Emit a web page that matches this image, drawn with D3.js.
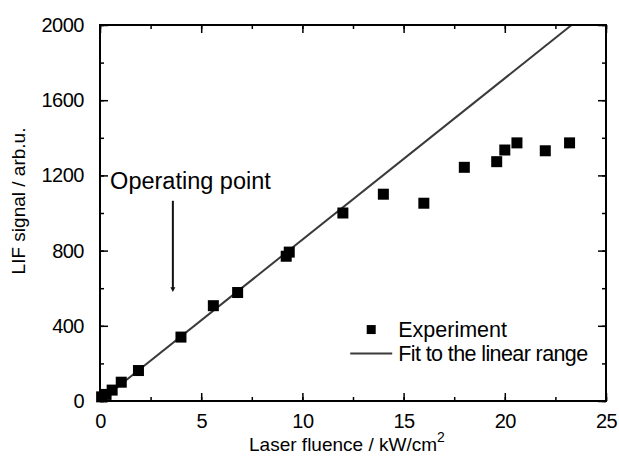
<!DOCTYPE html>
<html>
<head>
<meta charset="utf-8">
<script src="https://cdn.jsdelivr.net/npm/d3@7"></script>
<style>
  body { margin: 0; background: #fff; }
  svg { font-family: "Liberation Sans", Arial, sans-serif; }
</style>
</head>
<body>
<div id="chart-area"></div>
<script>
// experiment points
var fluence = [0.08, 0.3, 0.6, 1.05, 1.9, 4.0, 5.6, 6.8, 9.2, 9.35, 12, 14, 16, 18, 19.6, 20, 20.6, 22, 23.2]
var signal  = [22, 35, 58, 100, 162, 340, 507, 577, 770, 792, 1000, 1100, 1052, 1243, 1273, 1335, 1373, 1331, 1373]
// linear fit through the low-fluence range
var fitX = [0, 23.3]
var fitY = [0, 2000]
var xTicks = [0, 5, 10, 15, 20, 25]
var yTicks = [0, 400, 800, 1200, 1600, 2000]

var W = 619, H = 456
var margin = { top: 25, right: 13, bottom: 55, left: 100 }
var width = W - margin.left - margin.right
var height = H - margin.top - margin.bottom

var svg = d3.select("#chart-area").append("svg")
  .attr("width", W)
  .attr("height", H)

var g = svg.append("g")
  .attr("transform", `translate(${margin.left}, ${margin.top})`)

var x = d3.scaleLinear().domain([0, 25]).range([0, width])
var y = d3.scaleLinear().domain([0, 2000]).range([height, 0])

var data = fluence.map((f, i) => { return { x: f, y: signal[i] } })

// fit line
g.append("line")
  .attr("x1", x(fitX[0])).attr("y1", y(fitY[0]))
  .attr("x2", x(fitX[1])).attr("y2", y(fitY[1]))
  .attr("stroke", "#3a3a3a")
  .attr("stroke-width", 2)

// squares
var s = 11
g.selectAll("rect.pt")
  .data(data)
  .enter().append("rect")
  .attr("class", "pt")
  .attr("x", (d) => { return x(d.x) - s / 2 })
  .attr("y", (d) => { return y(d.y) - s / 2 })
  .attr("width", s)
  .attr("height", s)
  .attr("fill", "#000")

// axes, ticks pointing inward
function styleAxis(sel) {
  sel.select(".domain").remove()
  sel.selectAll("line").attr("stroke", "#000").attr("stroke-width", 1.5)
  sel.selectAll("text")
    .attr("font-size", "20px")
    .attr("letter-spacing", "-0.5px")
    .attr("fill", "#000")
}

var minorX = d3.range(0, 25.01, 2.5)
var minorY = d3.range(0, 2000.1, 200)

g.append("g").attr("transform", `translate(0, ${height})`)
  .call(d3.axisBottom(x).tickValues(minorX).tickSize(-4).tickFormat(""))
  .call(styleAxis)
g.append("g").attr("transform", `translate(0, ${height})`)
  .call(d3.axisBottom(x).tickValues(xTicks).tickSize(-8).tickPadding(13).tickFormat(d3.format("d")))
  .call(styleAxis)
g.append("g")
  .call(d3.axisTop(x).tickValues(minorX).tickSize(-4).tickFormat(""))
  .call(styleAxis)
g.append("g")
  .call(d3.axisTop(x).tickValues(xTicks).tickSize(-8).tickFormat(""))
  .call(styleAxis)

g.append("g")
  .call(d3.axisLeft(y).tickValues(minorY).tickSize(-4).tickFormat(""))
  .call(styleAxis)
g.append("g")
  .call(d3.axisLeft(y).tickValues(yTicks).tickSize(-8).tickPadding(16).tickFormat(d3.format("d")))
  .call(styleAxis)
g.append("g").attr("transform", `translate(${width}, 0)`)
  .call(d3.axisRight(y).tickValues(minorY).tickSize(-4).tickFormat(""))
  .call(styleAxis)
g.append("g").attr("transform", `translate(${width}, 0)`)
  .call(d3.axisRight(y).tickValues(yTicks).tickSize(-8).tickFormat(""))
  .call(styleAxis)

// frame
g.append("rect")
  .attr("width", width)
  .attr("height", height)
  .attr("fill", "none")
  .attr("stroke", "#000")
  .attr("stroke-width", 2)

// axis labels
g.append("text")
  .attr("x", -(height / 2) + 12)
  .attr("y", -75)
  .attr("transform", "rotate(-90)")
  .attr("text-anchor", "middle")
  .attr("font-size", "19px")
  .text("LIF signal / arb.u.")

var xl = g.append("text")
  .attr("x", x(12.2))
  .attr("y", height + 50)
  .attr("text-anchor", "middle")
  .attr("font-size", "19px")
xl.append("tspan").text("Laser fluence / kW/cm")
xl.append("tspan").attr("dy", -9).attr("font-size", "14px").text("2")

// annotation
g.append("text")
  .attr("x", x(0.5))
  .attr("y", y(1200) + 14)
  .attr("font-size", "23.5px")
  .text("Operating point")

var ax = x(3.6)
g.append("line")
  .attr("x1", ax).attr("y1", y(1065))
  .attr("x2", ax).attr("y2", y(595))
  .attr("stroke", "#111")
  .attr("stroke-width", 2)
g.append("path")
  .attr("d", `M${ax - 2.5},${y(605)} L${ax + 2.5},${y(605)} L${ax},${y(580)} Z`)
  .attr("fill", "#111")

// legend
var lg = g.append("g").attr("transform", `translate(${x(13.4)}, ${y(380)})`)
lg.append("rect")
  .attr("x", -4.5).attr("y", -4.5)
  .attr("width", 9).attr("height", 9)
  .attr("fill", "#000")
lg.append("text")
  .attr("x", 27).attr("y", 7)
  .attr("font-size", "21.5px")
  .text("Experiment")
lg.append("line")
  .attr("x1", -21).attr("x2", 21)
  .attr("y1", 24).attr("y2", 24)
  .attr("stroke", "#3a3a3a")
  .attr("stroke-width", 2)
lg.append("text")
  .attr("x", 27).attr("y", 31)
  .attr("font-size", "21.5px")
  .attr("letter-spacing", "-0.6px")
  .text("Fit to the linear range")
</script>
</body>
</html>
